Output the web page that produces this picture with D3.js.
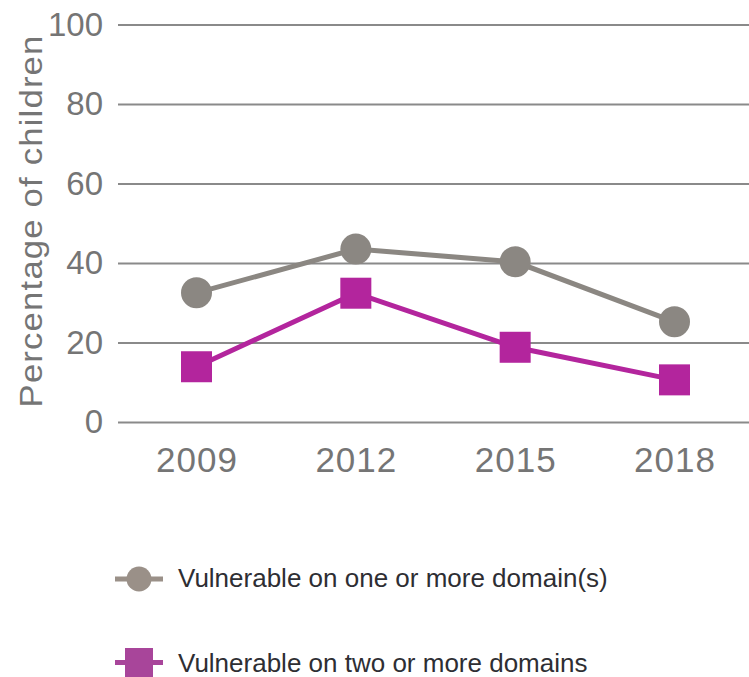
<!DOCTYPE html>
<html>
<head>
<meta charset="utf-8">
<script src="https://cdn.jsdelivr.net/npm/d3@7"></script>
<style>
  body { margin: 0; background: #fff; }
  svg { display: block; font-family: "Liberation Sans", Arial, sans-serif; }
</style>
</head>
<body>
<div id="chart"></div>
<script>
var years = ['2009', '2012', '2015', '2018'];
var oneOrMore = [32.5, 43.5, 40.3, 25.2];
var twoOrMore = [13.9, 32.4, 18.8, 10.6];
var yTicks = [0, 20, 40, 60, 80, 100];
var seriesNames = ['Vulnerable on one or more domain(s)', 'Vulnerable on two or more domains'];

var width = 749, height = 677;
var margin = { top: 24.5, right: 0, bottom: 255, left: 118 };
var grey = '#8b8782', magenta = '#b3259d';

var svg = d3.select('#chart').append('svg')
  .attr('width', width)
  .attr('height', height);

// first and last year sit a bit inside the gridlines
var x = d3.scalePoint()
  .domain(years)
  .range([margin.left + 78.5, width - 74.5]);

var y = d3.scaleLinear()
  .domain([0, 100])
  .range([height - margin.bottom, margin.top]);

// gridlines + y labels
var yAxis = svg.append('g')
  .attr('transform', 'translate(' + margin.left + ',0)')
  .call(d3.axisLeft(y).tickValues(yTicks).tickSize(-(width - margin.left)).tickPadding(15));
yAxis.select('.domain').remove();
yAxis.selectAll('.tick line').attr('stroke', '#8a8a8a').attr('stroke-width', 1.8);
yAxis.selectAll('.tick text')
  .attr('fill', '#757575')
  .style('font-size', '33px');

// x labels
var xAxis = svg.append('g')
  .attr('transform', 'translate(0,' + y(0) + ')')
  .call(d3.axisBottom(x).tickSize(0).tickPadding(25));
xAxis.select('.domain').remove();
xAxis.selectAll('.tick text')
  .attr('fill', '#757575')
  .style('font-size', '35px')
  .style('letter-spacing', '1px');

svg.append('text')
  .attr('transform', 'translate(42,221.5) rotate(-90) scale(1.12,1)')
  .attr('text-anchor', 'middle')
  .attr('textLength', 332)
  .attr('lengthAdjust', 'spacing')
  .attr('fill', '#757575')
  .style('font-size', '31px')
  .text('Percentage of children');

var line = d3.line()
  .x(function(d, i) { return x(years[i]); })
  .y(function(d) { return y(d); });

svg.append('path')
  .datum(oneOrMore)
  .attr('d', line)
  .attr('fill', 'none')
  .attr('stroke', grey)
  .attr('stroke-width', 5);

svg.selectAll('.dot')
  .data(oneOrMore)
  .enter().append('circle')
  .attr('cx', function(d, i) { return x(years[i]); })
  .attr('cy', function(d) { return y(d); })
  .attr('r', 15.5)
  .attr('fill', grey);

svg.append('path')
  .datum(twoOrMore)
  .attr('d', line)
  .attr('fill', 'none')
  .attr('stroke', magenta)
  .attr('stroke-width', 5);

var sq = 31;
svg.selectAll('.sq')
  .data(twoOrMore)
  .enter().append('rect')
  .attr('x', function(d, i) { return x(years[i]) - sq / 2; })
  .attr('y', function(d) { return y(d) - sq / 2; })
  .attr('width', sq)
  .attr('height', sq)
  .attr('fill', magenta);

// legend
var leg = svg.append('g');
leg.append('line')
  .attr('x1', 115).attr('x2', 163).attr('y1', 579).attr('y2', 579)
  .attr('stroke', '#9a9088').attr('stroke-width', 5);
leg.append('circle')
  .attr('cx', 139).attr('cy', 579).attr('r', 12.5)
  .attr('fill', '#9a9088');
leg.append('text')
  .attr('x', 178).attr('y', 587)
  .attr('fill', '#2e2e33')
  .style('font-size', '26px')
  .text(seriesNames[0]);

leg.append('line')
  .attr('x1', 115).attr('x2', 163).attr('y1', 662.5).attr('y2', 662.5)
  .attr('stroke', '#a8459a').attr('stroke-width', 5);
leg.append('rect')
  .attr('x', 125).attr('y', 648).attr('width', 28).attr('height', 29)
  .attr('fill', '#a8459a');
leg.append('text')
  .attr('x', 178).attr('y', 672)
  .attr('fill', '#2e2e33')
  .style('font-size', '26px')
  .text(seriesNames[1]);
</script>
</body>
</html>
